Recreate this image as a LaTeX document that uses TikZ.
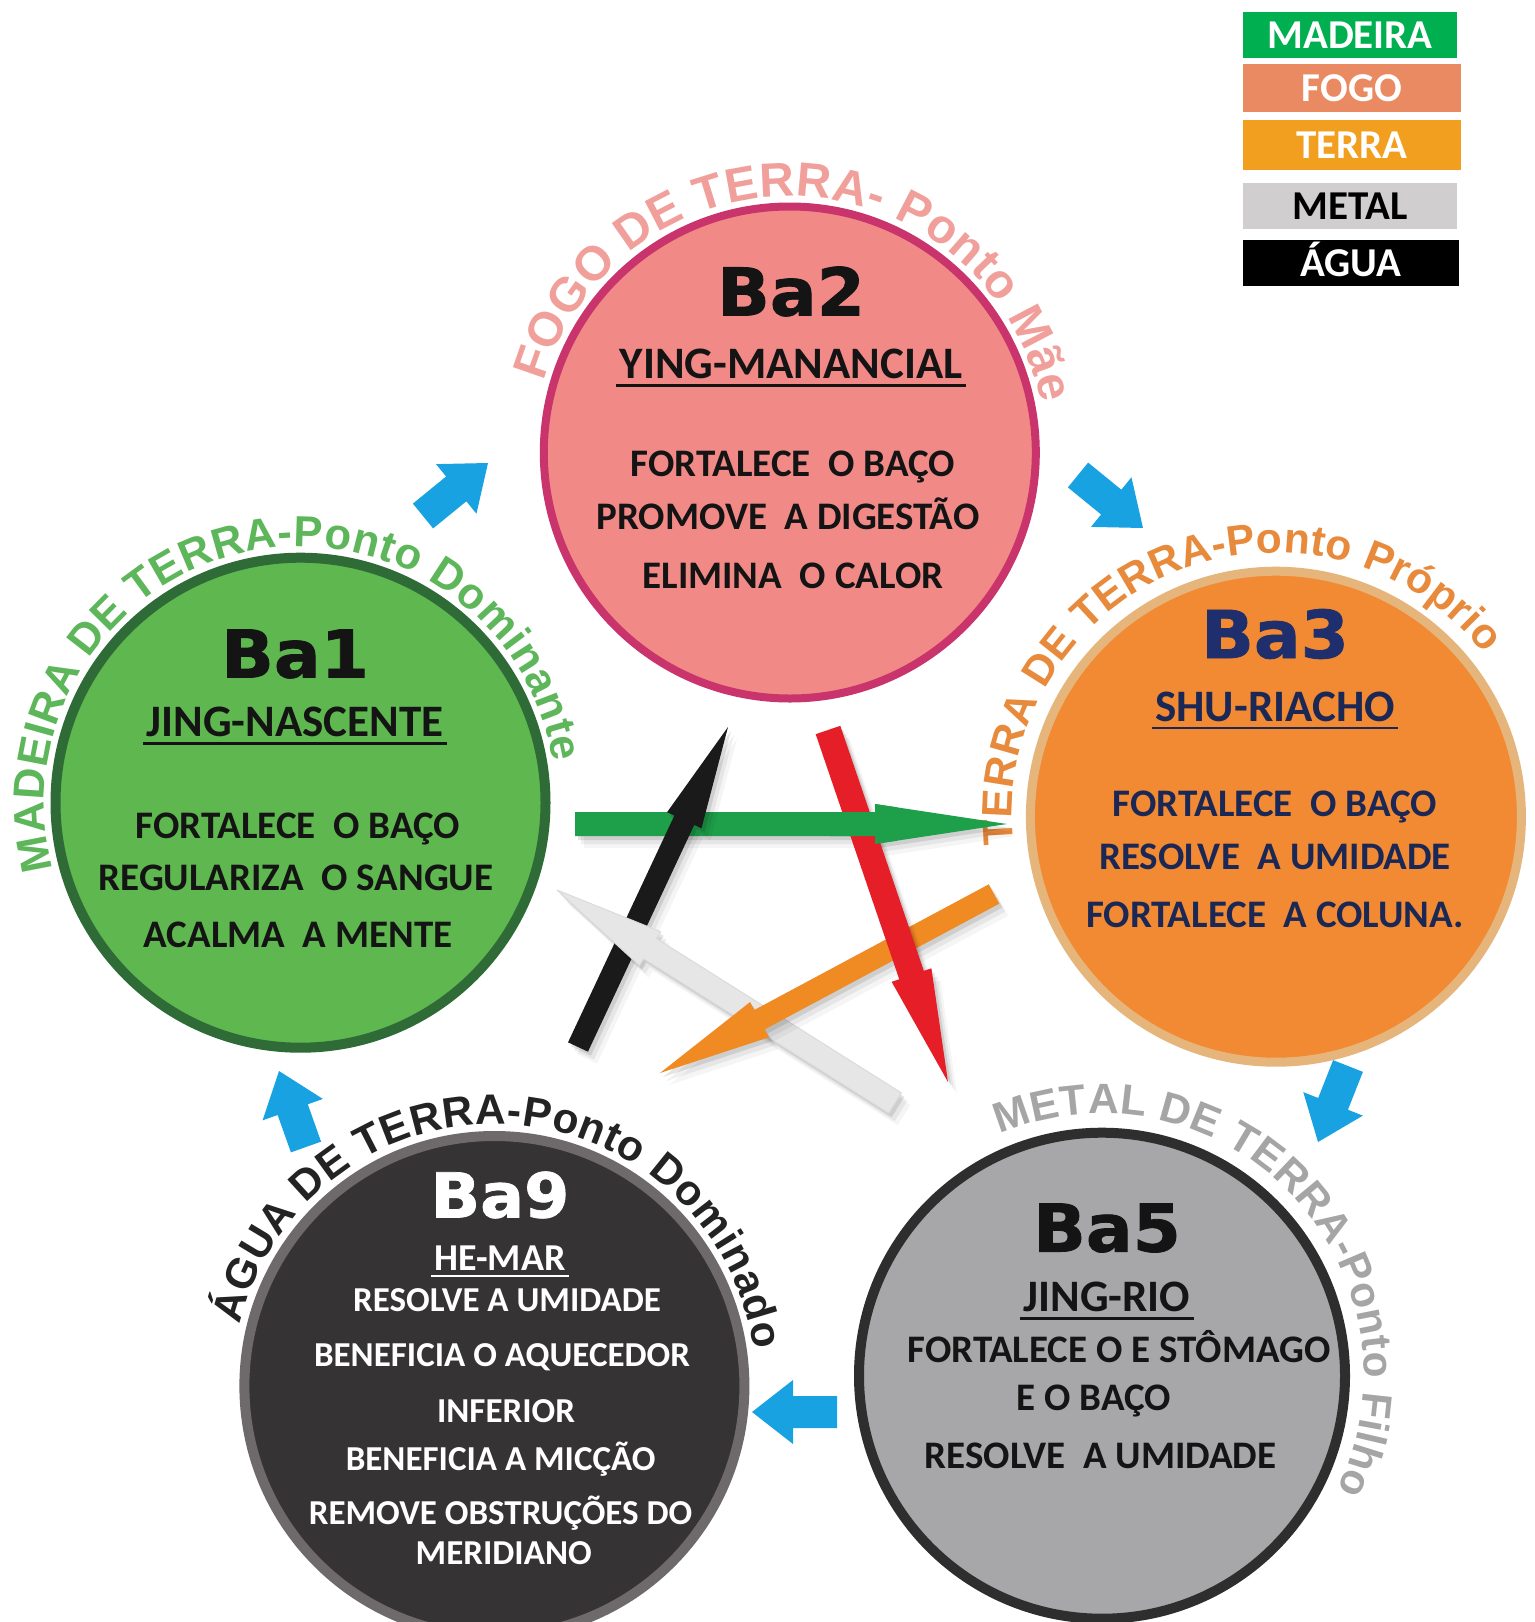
\documentclass[tikz,border=0pt]{standalone}
\usepackage{fontspec}
\usetikzlibrary{calc,decorations.text}
\newfontfamily\bodyfont{Carlito}
\newfontfamily\labfont{DejaVu Sans}[BoldFeatures={FakeBold=1.2,FakeStretch=1.05}]
\newfontfamily\arcfont{Liberation Sans}
\newcommand{\bodyf}[1]{\bodyfont\bfseries\fontsize{#1}{#1}\selectfont}
\newcommand{\labf}[1]{\labfont\bfseries\fontsize{#1}{#1}\selectfont}

\definecolor{c1fill}{HTML}{5FB74F}
\definecolor{c1line}{HTML}{2F6B37}
\definecolor{c2fill}{HTML}{F18A87}
\definecolor{c2line}{HTML}{C9346C}
\definecolor{c3fill}{HTML}{F18A32}
\definecolor{c3line}{HTML}{E6B57C}
\definecolor{c5fill}{HTML}{A7A7A9}
\definecolor{c5line}{HTML}{2E2E2E}
\definecolor{c9fill}{HTML}{353334}
\definecolor{c9line}{HTML}{6E696A}
\definecolor{arc1}{HTML}{5DB65A}
\definecolor{arc2}{HTML}{F19F9B}
\definecolor{arc3}{HTML}{E88A3C}
\definecolor{arc5}{HTML}{A5A5A5}
\definecolor{arc9}{HTML}{232323}
\definecolor{navy}{HTML}{1B2856}
\definecolor{navyB}{HTML}{1F2F6E}
\definecolor{txtK}{HTML}{141414}
\definecolor{blueA}{HTML}{18A2E2}
\definecolor{grA}{HTML}{1E9F4A}
\definecolor{rdA}{HTML}{E51E27}
\definecolor{orA}{HTML}{F08A22}
\definecolor{bkA}{HTML}{1A1A1A}
\definecolor{whA}{HTML}{E6E6E6}
\definecolor{lmad}{HTML}{00B050}
\definecolor{lfog}{HTML}{E98A62}
\definecolor{lter}{HTML}{F29F1F}
\definecolor{lmet}{HTML}{D0CECE}
\definecolor{lagu}{HTML}{000000}

\newcommand{\arcA}{\arcfont\bfseries\fontsize{43.5}{43.5}\selectfont\color{arc1}}
\newcommand{\arcB}{\arcfont\bfseries\fontsize{48}{48}\selectfont\color{arc2}}
\newcommand{\arcC}{\arcfont\bfseries\fontsize{42.5}{42.5}\selectfont\color{arc3}}
\newcommand{\arcD}{\arcfont\bfseries\fontsize{42.5}{42.5}\selectfont\color{arc5}}
\newcommand{\arcE}{\arcfont\bfseries\fontsize{42.5}{42.5}\selectfont\color{arc9}}

% fat arrow polygon: #1 tail, #2 tip, #3 half shaft, #4 half head, #5 head length
\newcommand{\faprep}[5]{%
  \coordinate (fatip) at (#2);
  \coordinate (fah) at ($(#2)!#5!(#1)$);
  \coordinate (fa1) at ($(#1)!#3!90:(#2)$);
  \coordinate (fa2) at ($(fah)!#3!90:(#2)$);
  \coordinate (fa3) at ($(fah)!#4!90:(#2)$);
  \coordinate (fa4) at ($(fah)!#4!-90:(#2)$);
  \coordinate (fa5) at ($(fah)!#3!-90:(#2)$);
  \coordinate (fa6) at ($(#1)!#3!-90:(#2)$);
}
\newcommand{\fapath}{(fa1) -- (fa2) -- (fa3) -- (fatip) -- (fa4) -- (fa5) -- (fa6) -- cycle}
\newcommand{\fashadow}{%
  \begin{scope}[transform canvas={shift={(3pt,-4pt)}}]\fill[black,opacity=0.10] \fapath;\end{scope}
  \begin{scope}[transform canvas={shift={(6pt,-8pt)}}]\fill[black,opacity=0.06] \fapath;\end{scope}
  \begin{scope}[transform canvas={shift={(9pt,-12pt)}}]\fill[black,opacity=0.04] \fapath;\end{scope}
}

\begin{document}
\begin{tikzpicture}[x=1pt,y=1pt,
  ball/.style={circle, inner sep=0pt},
  txt/.style={inner sep=0pt, anchor=base},
  lab/.style={txt, font=\labf{66}},
  head/.style={txt, font=\bodyf{45}},
  body/.style={txt, font=\bodyf{39}},
  lab9/.style={txt, font=\labf{62}, text=white},
  head9/.style={txt, font=\bodyf{38}, text=white},
  body9/.style={txt, font=\bodyf{35}, text=white},
  uline/.style={line width=2.6pt},
  leg/.style={inner sep=0pt, font=\bodyf{41}, text height=26pt, text depth=0pt},
  arctext/.style={decorate, decoration={text along path, text align={fit to path}, text={#1}}}
]
\useasboundingbox[fill=white] (0,0) rectangle (1534,-1622);

% ---------- circles
\node[ball, minimum size=490pt, fill=c1fill, draw=c1line, line width=10pt] (n1) at (300.5,-802.7) {};
\node[ball, minimum size=492pt, fill=c2fill, draw=c2line, line width=8pt] (n2) at (789.8,-452.5) {};
\node[ball, minimum size=491pt, fill=c3fill, draw=c3line, line width=9pt] (n3) at (1275.9,-816.7) {};
\node[ball, minimum size=486pt, fill=c5fill, draw=c5line, line width=10pt] (n5) at (1102,-1375.7) {};
\node[ball, minimum size=500pt, fill=c9fill, draw=c9line, line width=10pt] (n9) at (494.4,-1386) {};

% ---------- curved titles
\path[arctext={|\arcB|FOGO DE TERRA- Ponto Mãe}] ($(n2.center)+(164:256)$) arc[start angle=164, end angle=11, radius=256];
\path[arctext={|\arcA|MADEIRA DE TERRA-Ponto Dominante}] ($(n1.center)+(195:256)$) arc[start angle=195, end angle=9, radius=256];
\path[arctext={|\arcC|TERRA DE TERRA-Ponto Próprio}] ($(n3.center)+(186:264)$) arc[start angle=186, end angle=38, radius=264];
\path[arctext={|\arcD|METAL DE TERRA-Ponto Filho}] ($(n5.center)+(113:262)$) arc[start angle=113, end angle=-26, radius=262];
\path[arctext={|\arcE|ÁGUA DE TERRA-Ponto Dominado}] ($(n9.center)+(166.5:262)$) arc[start angle=166.5, end angle=8, radius=262];

% ---------- Ba2
\node[lab, text=txtK] (l2) at (791,-315.5) {Ba2};
\node[head, text=txtK] (h2) at (791,-378.6) {YING-MANANCIAL};
\draw[uline, txtK] ([xshift=-3pt,yshift=-7pt]h2.base west) -- ([xshift=3pt,yshift=-7pt]h2.base east);
\node[body, text=txtK] (t2a) at (793,-476) {FORTALECE\ \ O BAÇO};
\node[body, text=txtK] (t2b) at (788,-529.6) {PROMOVE\ \ A DIGESTÃO};
\node[body, text=txtK] (t2c) at (793,-588.6) {ELIMINA\ \ O CALOR};

% ---------- Ba1
\node[lab, text=txtK] (l1) at (295,-677.5) {Ba1};
\node[head, text=txtK] (h1) at (295,-736.5) {JING-NASCENTE};
\draw[uline, txtK] ([xshift=-3pt,yshift=-7pt]h1.base west) -- ([xshift=3pt,yshift=-7pt]h1.base east);
\node[body, text=txtK] (t1a) at (298,-838) {FORTALECE\ \ O BAÇO};
\node[body, text=txtK] (t1b) at (296,-890.6) {REGULARIZA\ \ O SANGUE};
\node[body, text=txtK] (t1c) at (298,-947.5) {ACALMA\ \ A MENTE};

% ---------- Ba3
\node[lab, text=navyB] (l3) at (1275,-658) {Ba3};
\node[head, text=navy] (h3) at (1275,-721) {SHU-RIACHO};
\draw[uline, navy] ([xshift=-3pt,yshift=-7pt]h3.base west) -- ([xshift=3pt,yshift=-7pt]h3.base east);
\node[body, text=navy] (t3a) at (1275,-816) {FORTALECE\ \ O BAÇO};
\node[body, text=navy] (t3b) at (1275,-869) {RESOLVE\ \ A UMIDADE};
\node[body, text=navy] (t3c) at (1275,-927) {FORTALECE\ \ A COLUNA.};

% ---------- Ba5
\node[lab, text=txtK] (l5) at (1107,-1251.6) {Ba5};
\node[head, text=txtK] (h5) at (1107,-1311.6) {JING-RIO};
\draw[uline, txtK] ([xshift=-3pt,yshift=-7pt]h5.base west) -- ([xshift=3pt,yshift=-7pt]h5.base east);
\node[body, text=txtK] (t5a) at (1119,-1362) {FORTALECE O E STÔMAGO};
\node[body, text=txtK] (t5b) at (1094,-1410) {E O BAÇO};
\node[body, text=txtK] (t5c) at (1100.6,-1468) {RESOLVE\ \ A UMIDADE};

% ---------- Ba9
\node[lab9] (l9) at (500,-1217.5) {Ba9};
\node[head9] (h9) at (500,-1270) {HE-MAR};
\draw[uline, white] ([xshift=-3pt,yshift=-6pt]h9.base west) -- ([xshift=3pt,yshift=-6pt]h9.base east);
\node[body9] (t9a) at (507,-1311.6) {RESOLVE A UMIDADE};
\node[body9] (t9b) at (502,-1366.5) {BENEFICIA O AQUECEDOR};
\node[body9] (t9c) at (506,-1422) {INFERIOR};
\node[body9] (t9d) at (500.6,-1470) {BENEFICIA A MICÇÃO};
\node[body9] (t9e) at (500.6,-1524.7) {REMOVE OBSTRUÇÕES DO};
\node[body9] (t9f) at (503.7,-1564) {MERIDIANO};

% ---------- legend
\node[leg, fill=lmad, minimum width=214pt, minimum height=46pt, text=white] (lg1) at (1350,-35) {MADEIRA};
\node[leg, fill=lfog, minimum width=218pt, minimum height=48pt, text=white] (lg2) at (1352,-88) {FOGO};
\node[leg, fill=lter, minimum width=218pt, minimum height=50pt, text=white] (lg3) at (1352,-145) {TERRA};
\node[leg, fill=lmet, minimum width=214pt, minimum height=46pt, text=black] (lg4) at (1350,-206) {METAL};
\node[leg, fill=lagu, minimum width=216pt, minimum height=46pt, text=white] (lg5) at (1351,-263) {ÁGUA};

% ---------- blue cycle arrows
\coordinate (b1A) at (423,-516);  \coordinate (b1B) at (488,-463);
\coordinate (b2A) at (1078,-475); \coordinate (b2B) at (1143,-528);
\coordinate (b3A) at (1348,-1066); \coordinate (b3B) at (1318,-1142);
\coordinate (b4A) at (837,-1412); \coordinate (b4B) at (752,-1412);
\coordinate (b5A) at (306,-1147); \coordinate (b5B) at (279,-1071);
\faprep{b1A}{b1B}{16pt}{32pt}{41pt}\fill[blueA] \fapath;
\faprep{b2A}{b2B}{16pt}{32pt}{41pt}\fill[blueA] \fapath;
\faprep{b3A}{b3B}{16pt}{32pt}{41pt}\fill[blueA] \fapath;
\faprep{b4A}{b4B}{16pt}{32pt}{41pt}\fill[blueA] \fapath;
\faprep{b5A}{b5B}{16pt}{32pt}{41pt}\fill[blueA] \fapath;

% ---------- central pentagram arrows
\coordinate (gA) at (575,-824);  \coordinate (gB) at (1007,-824);
\coordinate (kA) at (578,-1047); \coordinate (kB) at (728,-727);
\coordinate (rA) at (828,-730);  \coordinate (rB) at (948,-1082);
\coordinate (oA) at (994,-894);  \coordinate (oB) at (660,-1073);
\coordinate (wA) at (895,-1103); \coordinate (wB) at (557,-890);

\faprep{gA}{gB}{12pt}{20pt}{132pt}\fashadow\fill[grA] \fapath;
\faprep{kA}{kB}{11pt}{19pt}{103pt}\fashadow\fill[bkA] \fapath;
\faprep{wA}{wB}{12pt}{20pt}{110pt}\fashadow\fill[whA, draw=black!14, line width=1pt, line join=round] \fapath;
\faprep{oA}{oB}{11pt}{20pt}{113pt}\fashadow\fill[orA] \fapath;
\faprep{rA}{rB}{13pt}{21pt}{113pt}\fashadow\fill[rdA] \fapath;
\begin{scope}
  \clip (830,-796) rectangle (897,-852);
  \faprep{gA}{gB}{12pt}{20pt}{132pt}\fill[grA] \fapath;
\end{scope}
\end{tikzpicture}
\end{document}
